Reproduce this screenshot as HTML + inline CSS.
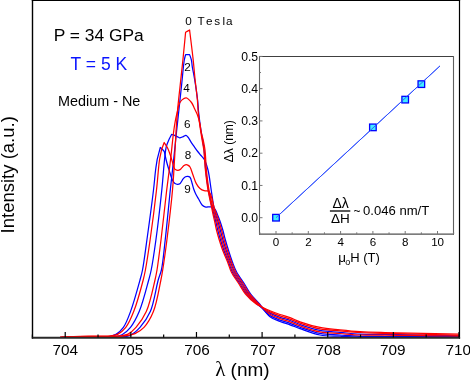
<!DOCTYPE html>
<html><head><meta charset="utf-8"><style>
html,body{margin:0;padding:0;background:#fff;}
body{width:470px;height:380px;overflow:hidden;}
svg{display:block;font-family:"Liberation Sans", sans-serif;will-change:transform;}
</style></head><body>
<svg width="470" height="380" viewBox="0 0 470 380">
<rect x="0" y="0" width="470" height="380" fill="#fff"/>
<defs><clipPath id="cp"><rect x="32" y="0" width="427" height="338"/></clipPath></defs>
<g clip-path="url(#cp)" fill="none" stroke-width="1.25" stroke-linejoin="round">
<path d="M60.00 337.50 C73.33 337.47 91.76 337.67 100.00 337.40 C103.69 337.28 105.36 337.39 108.00 336.90 C110.70 336.40 113.54 335.84 116.00 334.40 C118.71 332.81 121.22 330.47 123.40 327.40 C126.25 323.39 128.16 317.86 130.50 311.60 C133.72 302.96 137.91 287.60 140.00 280.00 C141.17 275.75 141.66 274.25 142.50 270.00 C143.94 262.71 145.33 251.28 146.90 240.00 C148.93 225.46 151.97 202.92 153.50 190.00 C154.47 181.84 154.88 175.61 155.60 170.00 C156.12 165.90 156.67 162.93 157.20 159.40 C158.23 155.43 159.27 151.47 160.30 147.50 C161.20 148.33 162.27 149.21 163.00 150.00 C163.57 150.62 163.93 151.20 164.40 151.80 C164.87 154.03 165.28 156.29 165.80 158.50 C166.31 160.69 166.91 162.93 167.50 165.00 C168.05 166.92 168.52 168.41 169.20 170.50 C170.12 173.32 171.37 178.07 172.60 180.40 C173.36 181.84 174.06 182.96 175.00 183.60 C175.77 184.12 176.74 184.33 177.60 184.30 C178.47 184.27 179.39 184.03 180.20 183.40 C181.36 182.49 182.26 179.76 183.30 178.60 C184.03 177.78 184.74 177.16 185.50 176.80 C186.15 176.49 186.80 176.35 187.50 176.40 C188.29 176.46 189.32 176.62 190.00 177.30 C191.02 178.33 191.39 181.07 192.00 183.00 C192.62 184.96 193.02 187.06 193.70 189.00 C194.36 190.89 195.15 192.78 196.00 194.50 C196.79 196.10 197.65 197.38 198.60 199.00 C199.72 200.93 200.86 203.94 202.30 205.30 C203.36 206.30 204.60 206.86 205.80 207.10 C206.94 207.32 208.16 206.81 209.30 206.80 C210.39 206.79 211.53 206.60 212.50 207.00 C213.55 207.44 214.51 208.39 215.30 209.50 C216.30 210.90 216.82 213.05 217.60 215.00 C218.48 217.19 219.45 219.57 220.30 222.00 C221.19 224.56 221.99 227.17 222.80 230.00 C223.70 233.14 224.47 236.68 225.40 240.00 C226.34 243.34 227.30 246.52 228.40 250.00 C229.61 253.83 230.97 258.21 232.40 262.00 C233.72 265.51 234.79 268.60 236.60 272.00 C238.69 275.91 242.05 280.17 244.50 284.00 C246.72 287.47 248.29 290.77 250.70 294.00 C253.27 297.45 256.56 300.43 259.60 304.00 C262.97 307.95 266.21 313.72 270.00 316.70 C273.12 319.15 276.62 320.14 280.00 321.50 C283.29 322.83 286.68 323.62 290.00 324.80 C293.35 325.99 296.07 327.23 300.00 328.60 C305.50 330.52 313.25 333.74 320.00 335.00 C326.59 336.23 333.33 335.87 340.00 336.20 C346.67 336.53 352.96 336.86 360.00 337.00 C367.87 337.16 376.67 337.00 385.00 337.00 C393.33 337.00 401.67 337.00 410.00 337.00 C418.33 337.00 426.67 337.00 435.00 337.00 C443.33 337.00 451.67 337.00 460.00 337.00" stroke="#0000ff"/>
<path d="M60.00 337.50 C73.33 337.47 90.56 337.57 100.00 337.40 C105.17 337.31 108.20 337.48 112.00 337.00 C115.51 336.56 118.98 336.32 122.00 334.80 C125.17 333.20 127.91 330.62 130.50 327.40 C133.78 323.33 136.54 317.94 139.20 311.60 C142.80 303.03 146.61 287.60 148.70 280.00 C149.87 275.75 150.34 274.25 151.20 270.00 C152.68 262.70 154.35 251.29 155.90 240.00 C157.90 225.47 160.29 204.56 161.80 190.00 C162.97 178.74 163.62 167.93 164.50 160.00 C165.08 154.77 165.28 150.70 166.20 147.00 C166.92 144.11 168.00 141.74 169.00 139.50 C169.85 137.58 170.80 136.03 171.70 134.30 C172.80 134.73 174.02 135.18 175.00 135.60 C175.81 135.94 176.46 136.24 177.20 136.60 C177.96 136.97 178.63 137.73 179.50 137.80 C180.57 137.89 182.07 137.03 183.20 136.60 C184.18 136.22 185.10 135.30 185.90 135.40 C186.65 135.50 187.22 136.23 187.90 137.00 C188.96 138.20 190.09 140.61 191.20 142.30 C192.25 143.90 193.32 145.37 194.40 146.90 C195.49 148.44 196.63 150.08 197.70 151.50 C198.65 152.76 199.49 153.77 200.50 155.00 C201.66 156.41 203.19 157.56 204.30 159.50 C205.83 162.17 206.96 165.89 208.00 170.00 C209.41 175.55 210.23 183.81 211.20 190.00 C212.04 195.36 212.63 200.52 213.50 205.00 C214.21 208.69 215.00 211.98 215.84 215.00 C216.55 217.56 217.38 219.58 218.10 222.00 C218.86 224.57 219.52 227.18 220.28 230.00 C221.13 233.15 222.00 236.68 222.96 240.00 C223.93 243.34 224.90 246.53 226.08 250.00 C227.38 253.83 229.02 258.19 230.48 262.00 C231.82 265.50 232.72 268.60 234.48 272.00 C236.51 275.92 239.84 280.17 242.30 284.00 C244.53 287.48 246.10 290.79 248.62 294.00 C251.35 297.48 254.84 300.58 258.24 304.00 C261.94 307.73 265.99 312.74 270.00 315.50 C273.28 317.75 276.63 318.78 280.00 320.10 C283.30 321.39 286.68 322.18 290.00 323.36 C293.35 324.55 296.07 325.87 300.00 327.24 C305.50 329.16 313.26 332.19 320.00 333.48 C326.60 334.74 333.33 334.53 340.00 335.00 C346.67 335.47 352.96 336.04 360.00 336.30 C367.87 336.59 376.67 336.47 385.00 336.50 C393.33 336.53 401.67 336.48 410.00 336.50 C418.33 336.52 426.67 336.57 435.00 336.60 C443.33 336.63 451.67 336.67 460.00 336.70" stroke="#0000ff"/>
<path d="M60.00 337.50 C73.33 337.47 88.95 337.52 100.00 337.40 C107.81 337.31 114.49 337.49 120.00 337.00 C123.92 336.65 126.84 336.80 130.00 335.40 C133.55 333.83 136.89 330.82 140.00 327.40 C143.77 323.25 147.48 318.05 150.30 311.60 C154.00 303.12 156.05 287.56 158.20 280.00 C159.42 275.71 160.45 274.28 161.40 270.00 C163.01 262.73 163.91 251.28 165.20 240.00 C166.86 225.46 168.76 204.55 170.30 190.00 C171.49 178.73 172.55 169.83 173.60 160.00 C174.61 150.51 175.57 140.77 176.50 132.00 C177.33 124.22 178.08 117.57 178.90 110.00 C179.78 101.93 180.70 93.33 181.60 85.00 C182.50 76.67 183.39 65.27 184.30 60.00 C184.73 57.52 185.17 56.40 185.60 54.60 C186.93 54.60 188.27 54.60 189.60 54.60 C190.20 56.40 190.96 58.07 191.40 60.00 C191.89 62.11 191.89 64.22 192.30 66.80 C192.84 70.22 193.75 74.15 194.50 78.70 C195.50 84.77 196.90 93.90 197.60 100.00 C198.12 104.56 198.15 107.72 198.60 112.00 C199.12 116.96 199.88 123.06 200.60 128.00 C201.23 132.29 202.00 136.18 202.60 140.00 C203.15 143.48 203.65 146.09 204.10 150.00 C204.73 155.51 204.98 163.34 205.70 170.00 C206.42 176.68 207.35 183.83 208.40 190.00 C209.32 195.38 210.46 200.52 211.50 205.00 C212.35 208.68 213.29 211.96 214.08 215.00 C214.74 217.54 215.31 219.58 215.90 222.00 C216.53 224.57 217.05 227.19 217.76 230.00 C218.56 233.16 219.52 236.68 220.52 240.00 C221.52 243.34 222.51 246.54 223.76 250.00 C225.15 253.84 227.07 258.18 228.56 262.00 C229.92 265.48 230.64 268.61 232.36 272.00 C234.34 275.92 237.64 280.18 240.10 284.00 C242.35 287.48 243.92 290.81 246.54 294.00 C249.42 297.51 253.09 300.89 256.88 304.00 C260.87 307.28 265.81 310.80 270.00 313.10 C273.46 315.00 276.64 316.06 280.00 317.30 C283.31 318.52 286.69 319.29 290.00 320.48 C293.36 321.69 296.06 323.14 300.00 324.52 C305.49 326.43 313.27 329.14 320.00 330.44 C326.61 331.71 333.33 331.67 340.00 332.30 C346.67 332.93 352.95 333.82 360.00 334.20 C367.86 334.62 376.67 334.40 385.00 334.50 C393.33 334.60 401.67 334.67 410.00 334.80 C418.33 334.93 426.67 335.13 435.00 335.30 C443.33 335.47 451.67 335.63 460.00 335.80" stroke="#0000ff"/>
<path d="M60.00 337.40 C62.67 337.23 65.06 337.04 68.00 336.90 C71.59 336.73 75.49 336.59 80.00 336.50 C85.82 336.39 94.48 336.52 100.00 336.40 C103.91 336.31 106.87 336.43 110.00 336.00 C112.84 335.61 115.49 335.38 118.00 334.10 C120.80 332.67 123.46 330.41 125.80 327.40 C128.87 323.46 131.20 317.90 133.70 311.60 C137.12 302.99 141.22 287.61 143.20 280.00 C144.30 275.76 144.60 274.24 145.40 270.00 C146.77 262.69 148.49 251.28 150.10 240.00 C152.17 225.46 154.84 204.56 156.50 190.00 C157.78 178.74 158.39 167.41 159.50 160.00 C160.16 155.58 160.90 153.00 161.60 149.50 C162.47 147.17 163.33 144.83 164.20 142.50 C165.33 144.33 166.60 145.98 167.60 148.00 C168.70 150.24 169.58 152.99 170.40 155.40 C171.17 157.65 171.78 159.88 172.40 162.00 C172.97 163.97 173.26 166.32 174.00 167.70 C174.50 168.64 175.09 169.37 175.80 169.80 C176.44 170.19 177.29 170.34 178.00 170.30 C178.69 170.26 179.37 169.99 180.00 169.60 C180.72 169.15 181.33 168.27 182.00 167.60 C182.67 166.93 183.26 166.11 184.00 165.60 C184.70 165.12 185.56 164.61 186.30 164.60 C186.99 164.59 187.69 165.01 188.30 165.40 C188.93 165.80 189.45 166.17 190.00 167.00 C191.06 168.59 191.97 172.29 193.00 175.00 C194.07 177.82 194.97 181.21 196.30 183.60 C197.38 185.55 198.59 187.29 200.00 188.50 C201.23 189.55 202.75 190.32 204.10 190.70 C205.28 191.03 206.66 190.53 207.60 190.90 C208.39 191.22 208.93 191.75 209.50 192.50 C210.30 193.56 210.87 195.17 211.50 197.00 C212.41 199.65 213.08 203.87 214.00 207.00 C214.83 209.83 215.83 212.43 216.72 215.00 C217.56 217.41 218.42 219.58 219.20 222.00 C220.03 224.57 220.76 227.18 221.54 230.00 C222.41 233.14 223.23 236.68 224.18 240.00 C225.13 243.34 226.10 246.53 227.24 250.00 C228.50 253.83 230.00 258.20 231.44 262.00 C232.77 265.50 233.75 268.60 235.54 272.00 C237.60 275.91 240.95 280.17 243.40 284.00 C245.62 287.47 247.19 290.78 249.66 294.00 C252.31 297.46 255.63 300.70 258.92 304.00 C262.39 307.47 266.18 311.79 270.00 314.30 C273.24 316.43 276.63 317.42 280.00 318.70 C283.30 319.95 286.69 320.73 290.00 321.92 C293.35 323.12 296.06 324.50 300.00 325.88 C305.49 327.80 313.26 330.69 320.00 331.96 C326.60 333.20 333.33 332.99 340.00 333.50 C346.67 334.01 352.96 334.71 360.00 335.00 C367.86 335.33 376.67 335.13 385.00 335.20 C393.33 335.27 401.67 335.30 410.00 335.40 C418.33 335.50 426.67 335.67 435.00 335.80 C443.33 335.93 451.67 336.07 460.00 336.20" stroke="#ff0000"/>
<path d="M60.00 337.40 C62.67 337.20 65.06 336.95 68.00 336.80 C71.59 336.62 75.49 336.57 80.00 336.50 C85.82 336.41 93.51 336.45 100.00 336.40 C106.16 336.35 112.90 336.76 118.00 336.20 C121.84 335.78 125.01 335.55 128.00 334.10 C131.02 332.63 133.38 330.35 136.00 327.40 C139.52 323.43 143.40 318.04 146.30 311.60 C150.12 303.11 153.19 287.61 155.00 280.00 C156.01 275.76 156.29 274.24 157.00 270.00 C158.22 262.69 159.61 251.28 161.00 240.00 C162.80 225.46 164.95 204.54 166.70 190.00 C168.06 178.73 169.33 169.83 170.50 160.00 C171.63 150.51 172.67 139.08 173.60 132.00 C174.17 127.65 174.57 124.90 175.20 121.50 C175.81 118.24 176.58 115.06 177.30 112.00 C177.98 109.11 178.41 105.77 179.40 103.60 C180.12 102.04 180.88 100.86 182.00 99.90 C183.14 98.92 184.78 97.61 186.20 97.80 C187.94 98.03 190.10 100.66 191.50 102.50 C192.90 104.33 193.61 106.74 194.60 108.80 C195.54 110.77 196.48 112.42 197.30 114.60 C198.29 117.24 199.24 120.63 199.90 123.60 C200.52 126.43 200.64 129.25 201.20 132.00 C201.75 134.71 202.59 137.17 203.20 140.00 C203.87 143.14 204.51 146.08 205.00 150.00 C205.69 155.51 205.73 163.34 206.40 170.00 C207.07 176.68 207.92 183.83 209.00 190.00 C209.94 195.38 211.21 200.52 212.30 205.00 C213.19 208.68 214.11 211.97 214.96 215.00 C215.67 217.55 216.34 219.58 217.00 222.00 C217.70 224.57 218.28 227.19 219.02 230.00 C219.85 233.15 220.76 236.68 221.74 240.00 C222.73 243.34 223.71 246.53 224.92 250.00 C226.26 253.84 228.04 258.18 229.52 262.00 C230.87 265.49 231.68 268.61 233.42 272.00 C235.43 275.92 238.74 280.18 241.20 284.00 C243.44 287.48 245.01 290.80 247.58 294.00 C250.38 297.49 253.87 301.04 257.56 304.00 C261.33 307.02 265.99 309.85 270.00 311.90 C273.43 313.66 276.64 314.70 280.00 315.90 C283.31 317.08 286.69 317.84 290.00 319.04 C293.36 320.26 296.05 321.78 300.00 323.16 C305.48 325.07 313.27 327.65 320.00 328.92 C326.61 330.17 333.33 330.20 340.00 330.80 C346.67 331.40 352.96 332.07 360.00 332.50 C367.86 332.98 376.67 333.18 385.00 333.40 C393.33 333.62 401.67 333.60 410.00 333.80 C418.33 334.00 426.67 334.35 435.00 334.60 C443.33 334.85 451.67 335.07 460.00 335.30" stroke="#ff0000"/>
<path d="M60.00 337.40 C62.67 337.20 65.06 336.96 68.00 336.80 C71.59 336.61 75.10 336.49 80.00 336.40 C87.75 336.26 101.72 336.42 110.00 336.30 C115.86 336.21 120.53 336.47 125.00 335.90 C128.70 335.43 131.88 334.97 135.00 333.60 C138.22 332.18 141.25 330.33 144.00 327.40 C147.56 323.59 150.80 318.01 153.40 311.60 C156.85 303.08 159.32 287.60 160.90 280.00 C161.79 275.75 162.02 274.23 162.70 270.00 C163.87 262.69 165.48 251.28 166.90 240.00 C168.73 225.46 171.20 204.56 172.50 190.00 C173.51 178.74 173.91 169.83 174.50 160.00 C175.07 150.51 175.45 140.77 176.00 132.00 C176.49 124.22 176.93 117.56 177.60 110.00 C178.31 101.93 179.32 93.33 180.20 85.00 C181.08 76.67 182.02 68.55 182.90 60.00 C183.82 51.01 184.70 41.53 185.60 32.30 C186.93 31.53 188.27 30.77 189.60 30.00 C190.80 40.00 192.25 51.17 193.20 60.00 C193.95 66.96 194.33 72.27 195.00 78.70 C195.72 85.57 196.85 93.91 197.40 100.00 C197.81 104.56 197.79 107.72 198.20 112.00 C198.67 116.96 199.50 123.05 200.20 128.00 C200.81 132.29 201.47 136.18 202.10 140.00 C202.67 143.49 203.31 146.08 203.80 150.00 C204.49 155.51 204.70 163.34 205.40 170.00 C206.10 176.68 206.96 183.83 208.00 190.00 C208.90 195.38 210.16 200.51 211.10 205.00 C211.86 208.67 212.53 211.97 213.20 215.00 C213.76 217.54 214.27 219.59 214.80 222.00 C215.37 224.58 215.81 227.20 216.50 230.00 C217.28 233.16 218.29 236.68 219.30 240.00 C220.32 243.35 221.31 246.54 222.60 250.00 C224.03 253.84 226.09 258.17 227.60 262.00 C228.96 265.47 229.61 268.61 231.30 272.00 C233.26 275.92 236.54 280.19 239.00 284.00 C241.25 287.49 242.83 290.82 245.50 294.00 C248.45 297.52 252.17 301.24 256.20 304.00 C260.32 306.83 265.73 308.86 270.00 310.70 C273.56 312.24 276.65 313.34 280.00 314.50 C283.32 315.64 286.70 316.40 290.00 317.60 C293.36 318.82 296.04 320.42 300.00 321.80 C305.47 323.71 313.28 326.06 320.00 327.40 C326.62 328.72 333.33 329.10 340.00 329.80 C346.66 330.50 352.96 331.16 360.00 331.60 C367.86 332.09 376.67 332.27 385.00 332.50 C393.33 332.73 401.67 332.80 410.00 333.00 C418.33 333.20 426.67 333.50 435.00 333.70 C443.33 333.90 451.67 334.03 460.00 334.20" stroke="#ff0000"/>
</g>
<path d="M31.8 0.5 H460.1" stroke="#000" stroke-width="1.2" fill="none"/>
<path d="M32.5 0 V338.7" stroke="#000" stroke-width="1.4" fill="none"/>
<path d="M459.5 0 V338.7" stroke="#000" stroke-width="1.2" fill="none"/>
<path d="M31.8 337.8 H460.1" stroke="#2a2a2a" stroke-width="1.9" fill="none"/>
<path d="M65.22 337.5 V332 M130.84 337.5 V332 M196.47 337.5 V332 M262.10 337.5 V332 M327.73 337.5 V332 M393.36 337.5 V332 M458.99 337.5 V332 M32.40 337.5 V334.5 M98.03 337.5 V334.5 M163.66 337.5 V334.5 M229.29 337.5 V334.5 M294.92 337.5 V334.5 M360.55 337.5 V334.5 M426.18 337.5 V334.5" stroke="#000" stroke-width="1.2" fill="none"/>
<text x="65.17" y="354.9" font-size="15.3" text-anchor="middle">704</text>
<text x="130.45" y="354.9" font-size="15.3" text-anchor="middle">705</text>
<text x="196.97" y="354.9" font-size="15.3" text-anchor="middle">706</text>
<text x="263.10" y="354.9" font-size="15.3" text-anchor="middle">707</text>
<text x="328.23" y="354.9" font-size="15.3" text-anchor="middle">708</text>
<text x="392.66" y="354.9" font-size="15.3" text-anchor="middle">709</text>
<text x="458.29" y="354.9" font-size="15.3" text-anchor="middle">710</text>
<text x="215.3" y="375.8" font-size="21" font-family="Liberation Serif, serif">&#955;</text>
<text x="230.6" y="375.7" font-size="19">(nm)</text>
<text transform="translate(13.8,174.8) rotate(-90)" font-size="18.5" text-anchor="middle">Intensity (a.u.)</text>
<text x="53.7" y="40.8" font-size="17.4">P = 34 GPa</text>
<text x="70.6" y="70" font-size="17.5" fill="#0a14ff">T = 5 K</text>
<text x="58" y="105.8" font-size="14.4">Medium - Ne</text>
<text x="185.3 189 197.5 206.1 214.2 222.6 226" y="24.9" font-size="11.7">0 Tesla</text>
<text x="187.6" y="71.3" font-size="11.7" text-anchor="middle">2</text>
<text x="186.6" y="91.9" font-size="11.7" text-anchor="middle">4</text>
<text x="187.2" y="127.5" font-size="11.7" text-anchor="middle">6</text>
<text x="187.9" y="158.7" font-size="11.7" text-anchor="middle">8</text>
<text x="187.5" y="192.5" font-size="11.7" text-anchor="middle">9</text>
<rect x="259.5" y="56.5" width="194" height="177.6" fill="#fff"/>
<path d="M259 56.5 H454" stroke="#404040" stroke-width="1.1" fill="none"/>
<path d="M259.5 56 V234.6" stroke="#606060" stroke-width="1.1" fill="none"/>
<path d="M453.5 56 V234.6" stroke="#606060" stroke-width="1.1" fill="none"/>
<path d="M259 234.1 H454" stroke="#505050" stroke-width="1.1" fill="none"/>
<path d="M276.00 234 V231 M308.30 234 V231 M340.60 234 V231 M372.90 234 V231 M405.20 234 V231 M437.50 234 V231 M259.85 234 V232.3 M292.15 234 V232.3 M324.45 234 V232.3 M356.75 234 V232.3 M389.05 234 V232.3 M421.35 234 V232.3 M453.65 234 V232.3 M259.5 217.70 H262.5 M259.5 185.44 H262.5 M259.5 153.18 H262.5 M259.5 120.92 H262.5 M259.5 88.66 H262.5 M259.5 56.40 H262.5 M259.5 201.57 H261 M259.5 169.31 H261 M259.5 137.05 H261 M259.5 104.79 H261 M259.5 72.53 H261" stroke="#777" stroke-width="1" fill="none"/>
<text x="276.10" y="245.5" font-size="11.6" text-anchor="middle">0</text>
<text x="308.40" y="245.5" font-size="11.6" text-anchor="middle">2</text>
<text x="340.70" y="245.5" font-size="11.6" text-anchor="middle">4</text>
<text x="373.00" y="245.5" font-size="11.6" text-anchor="middle">6</text>
<text x="405.30" y="245.5" font-size="11.6" text-anchor="middle">8</text>
<text x="437.60" y="245.5" font-size="11.6" text-anchor="middle">10</text>
<text x="258.1" y="221.90" font-size="12.2" text-anchor="end">0.0</text>
<text x="258.1" y="189.64" font-size="12.2" text-anchor="end">0.1</text>
<text x="258.1" y="157.38" font-size="12.2" text-anchor="end">0.2</text>
<text x="258.1" y="125.12" font-size="12.2" text-anchor="end">0.3</text>
<text x="258.1" y="92.86" font-size="12.2" text-anchor="end">0.4</text>
<text x="258.1" y="60.60" font-size="12.2" text-anchor="end">0.5</text>
<text transform="translate(233,141.2) rotate(-90)" font-size="12" text-anchor="middle">&#916;&#955; (nm)</text>
<text x="338.3" y="261.6" font-size="13.4">&#956;</text><text x="345.2" y="265" font-size="9">o</text><text x="350.2" y="261.6" font-size="13">H (T)</text>
<text x="340.6" y="207.5" font-size="14" text-anchor="middle">&#916;&#955;</text>
<path d="M329.9 211 H350.3" stroke="#000" stroke-width="1.3"/>
<text x="340.3" y="223.1" font-size="13.5" text-anchor="middle">&#916;H</text>
<text x="353.6" y="214.6" font-size="12">~</text>
<text x="363.0" y="215.2" font-size="13.1">0.046 nm/T</text>
<path d="M276 217.7 L440 65.9" stroke="#3050ff" stroke-width="1" fill="none"/>
<rect x="272.70" y="214.40" width="6.6" height="6.6" fill="#40eeff" stroke="#0000ff" stroke-width="1.3"/>
<rect x="369.60" y="124.07" width="6.6" height="6.6" fill="#40eeff" stroke="#0000ff" stroke-width="1.3"/>
<rect x="401.90" y="96.33" width="6.6" height="6.6" fill="#40eeff" stroke="#0000ff" stroke-width="1.3"/>
<rect x="418.05" y="80.84" width="6.6" height="6.6" fill="#40eeff" stroke="#0000ff" stroke-width="1.3"/>
<path d="M276 217.7 L440 65.9" stroke="#3050ff" stroke-width="0.9" fill="none"/>
</svg>
</body></html>
